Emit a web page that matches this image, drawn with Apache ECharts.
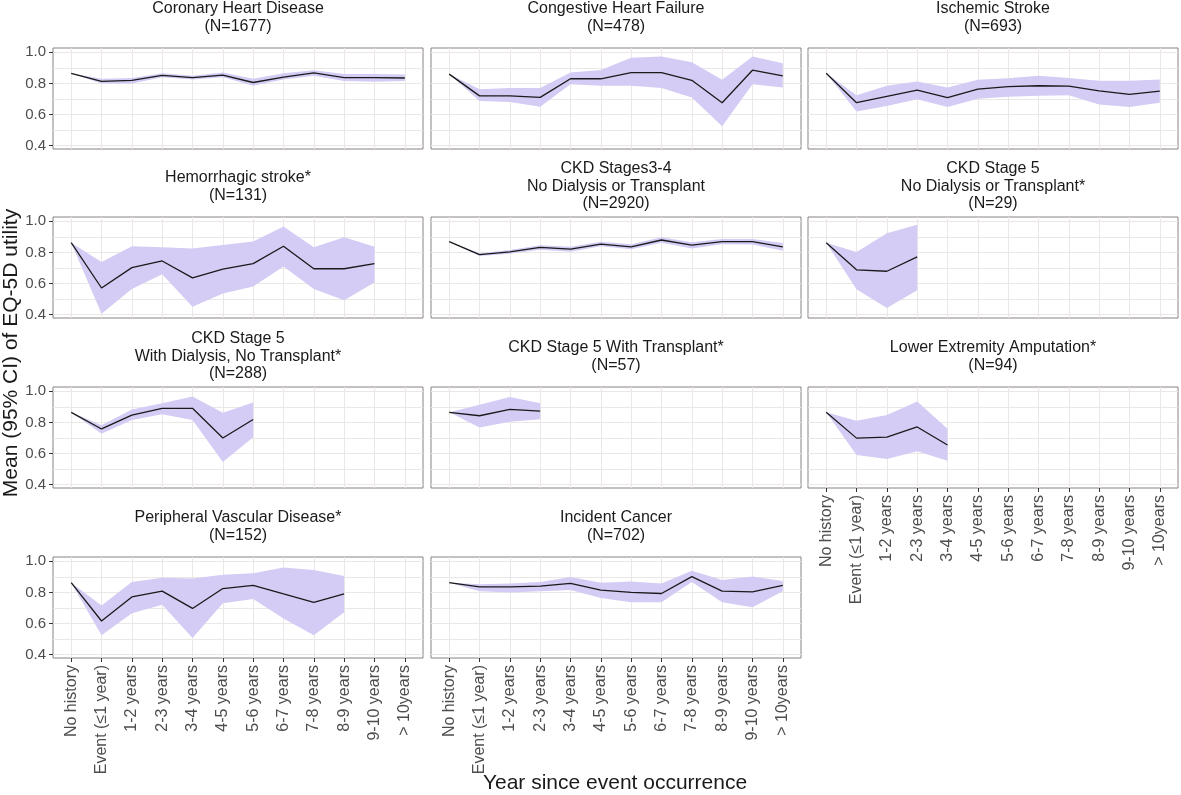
<!DOCTYPE html>
<html>
<head>
<meta charset="utf-8">
<script src="https://cdn.jsdelivr.net/npm/echarts@6/dist/echarts.min.js"></script>
<style>
  html, body { margin: 0; padding: 0; background: #fff; }
  #chart { width: 1181px; height: 795px; }
</style>
</head>
<body>
<div id="chart"></div>
<script>
// categories on the x axis
const years = ['No history', 'Event (≤1 year)', '1-2 years', '2-3 years', '3-4 years', '4-5 years',
  '5-6 years', '6-7 years', '7-8 years', '8-9 years', '9-10 years', '> 10years'];

// mean utility and 95% CI per panel
const chdMean = [0.865, 0.813, 0.82, 0.852, 0.837, 0.854, 0.806, 0.841, 0.868, 0.837, 0.837, 0.835];
const chdLow = [0.865, 0.80, 0.80, 0.84, 0.825, 0.84, 0.785, 0.825, 0.85, 0.815, 0.81, 0.815];
const chdHigh = [0.865, 0.83, 0.835, 0.865, 0.85, 0.87, 0.83, 0.865, 0.885, 0.86, 0.86, 0.858];

const chfMean = [0.86, 0.72, 0.72, 0.71, 0.83, 0.83, 0.87, 0.87, 0.82, 0.676, 0.885, 0.848];
const chfLow = [0.86, 0.687, 0.68, 0.65, 0.795, 0.785, 0.785, 0.77, 0.71, 0.524, 0.795, 0.774];
const chfHigh = [0.86, 0.763, 0.77, 0.77, 0.87, 0.887, 0.965, 0.974, 0.937, 0.824, 0.974, 0.93];

const isMean = [0.865, 0.676, 0.717, 0.757, 0.709, 0.763, 0.78, 0.785, 0.783, 0.752, 0.73, 0.75];
const isLow = [0.865, 0.62, 0.654, 0.698, 0.648, 0.702, 0.715, 0.72, 0.724, 0.665, 0.648, 0.676];
const isHigh = [0.865, 0.724, 0.785, 0.813, 0.774, 0.824, 0.833, 0.85, 0.835, 0.817, 0.817, 0.826];

const hsMean = [0.863, 0.571, 0.702, 0.745, 0.636, 0.693, 0.728, 0.84, 0.695, 0.695, 0.728];
const hsLow = [0.863, 0.405, 0.564, 0.66, 0.45, 0.536, 0.58, 0.71, 0.564, 0.492, 0.607];
const hsHigh = [0.863, 0.739, 0.84, 0.833, 0.826, 0.848, 0.87, 0.967, 0.833, 0.898, 0.837];

const ckd34Mean = [0.869, 0.786, 0.803, 0.832, 0.821, 0.854, 0.836, 0.88, 0.847, 0.869, 0.869, 0.836];
const ckd34Low = [0.869, 0.777, 0.792, 0.818, 0.805, 0.84, 0.82, 0.862, 0.826, 0.852, 0.851, 0.81];
const ckd34High = [0.869, 0.795, 0.815, 0.846, 0.837, 0.868, 0.852, 0.897, 0.866, 0.886, 0.886, 0.86];

const ckd5ndMean = [0.862, 0.688, 0.679, 0.771];
const ckd5ndLow = [0.862, 0.563, 0.443, 0.557];
const ckd5ndHigh = [0.862, 0.803, 0.924, 0.978];

const ckd5dMean = [0.865, 0.758, 0.847, 0.891, 0.891, 0.70, 0.819];
const ckd5dLow = [0.865, 0.727, 0.815, 0.852, 0.815, 0.546, 0.705];
const ckd5dHigh = [0.865, 0.782, 0.884, 0.924, 0.967, 0.863, 0.928];

const ckd5tMean = [0.865, 0.843, 0.884, 0.873];
const ckd5tLow = [0.865, 0.767, 0.804, 0.821];
const ckd5tHigh = [0.865, 0.913, 0.963, 0.924];

const leaMean = [0.865, 0.699, 0.705, 0.771, 0.655];
const leaLow = [0.865, 0.59, 0.564, 0.614, 0.553];
const leaHigh = [0.865, 0.81, 0.847, 0.935, 0.76];

const pvdMean = [0.863, 0.616, 0.771, 0.808, 0.697, 0.825, 0.845, 0.79, 0.736, 0.79];
const pvdLow = [0.863, 0.524, 0.666, 0.72, 0.507, 0.73, 0.758, 0.633, 0.524, 0.673];
const pvdHigh = [0.863, 0.716, 0.867, 0.895, 0.889, 0.913, 0.924, 0.961, 0.945, 0.906];

const canMean = [0.863, 0.836, 0.836, 0.84, 0.858, 0.815, 0.80, 0.793, 0.902, 0.808, 0.804, 0.845];
const canLow = [0.863, 0.808, 0.80, 0.808, 0.815, 0.764, 0.736, 0.736, 0.867, 0.736, 0.705, 0.808];
const canHigh = [0.863, 0.852, 0.858, 0.867, 0.9, 0.863, 0.871, 0.858, 0.939, 0.88, 0.902, 0.873];

// y axis
const yTicks = [0.4, 0.6, 0.8, 1.0];
const yGrid = [0.4, 0.5, 0.6, 0.7, 0.8, 0.9, 1.0];
const yMin = 0.378;
const yMax = 1.028;

// facets, in ggplot order (row by row)
const panels = [
  {title: 'Coronary Heart Disease\n(N=1677)', mean: chdMean, low: chdLow, high: chdHigh, row: 0, col: 0},
  {title: 'Congestive Heart Failure\n(N=478)', mean: chfMean, low: chfLow, high: chfHigh, row: 0, col: 1},
  {title: 'Ischemic Stroke\n(N=693)', mean: isMean, low: isLow, high: isHigh, row: 0, col: 2},
  {title: 'Hemorrhagic stroke*\n(N=131)', mean: hsMean, low: hsLow, high: hsHigh, row: 1, col: 0},
  {title: 'CKD Stages3-4\nNo Dialysis or Transplant\n(N=2920)', mean: ckd34Mean, low: ckd34Low, high: ckd34High, row: 1, col: 1},
  {title: 'CKD Stage 5\nNo Dialysis or Transplant*\n(N=29)', mean: ckd5ndMean, low: ckd5ndLow, high: ckd5ndHigh, row: 1, col: 2},
  {title: 'CKD Stage 5\nWith Dialysis, No Transplant*\n(N=288)', mean: ckd5dMean, low: ckd5dLow, high: ckd5dHigh, row: 2, col: 0},
  {title: 'CKD Stage 5 With Transplant*\n(N=57)', mean: ckd5tMean, low: ckd5tLow, high: ckd5tHigh, row: 2, col: 1},
  {title: 'Lower Extremity Amputation*\n(N=94)', mean: leaMean, low: leaLow, high: leaHigh, row: 2, col: 2},
  {title: 'Peripheral Vascular Disease*\n(N=152)', mean: pvdMean, low: pvdLow, high: pvdHigh, row: 3, col: 0},
  {title: 'Incident Cancer\n(N=702)', mean: canMean, low: canLow, high: canHigh, row: 3, col: 1}
];
const bottomPanels = [8, 9, 10];

const colLeft = [53, 431, 808];
const rowTop = [48, 217, 387, 557];
const panelW = 370;
const panelH = 101;
const fontName = '"Liberation Sans", Arial, sans-serif';
const ribbonColor = '#d4ccf4';
const gridColor = '#ebe7e7';
// ggplot discrete axis: positions 0..11 with 0.6 units of padding on each side
const xPositions = years.map(function (y, k) { return k; });

let grids = [];
let xAxes = [];
let yAxes = [];
let series = [];
let graphics = [];

function toPairs (arr) {
  return arr.map(function (v, k) { return [k, v]; });
}

panels.forEach(function (p, i) {
  let showX = bottomPanels.indexOf(i) >= 0;
  let showY = p.col === 0;

  grids.push({
    left: colLeft[p.col],
    top: rowTop[p.row],
    width: panelW,
    height: panelH,
    show: true,
    backgroundColor: '#fff',
    borderColor: '#878282',
    borderWidth: 1
  });

  xAxes.push({
    type: 'value',
    gridIndex: i,
    min: -0.6,
    max: years.length - 0.4,
    axisLine: {show: false},
    axisTick: {show: showX, customValues: xPositions, length: 4, lineStyle: {color: '#333'}},
    axisLabel: {
      show: showX,
      customValues: xPositions,
      rotate: 90,
      margin: 7,
      fontSize: 16,
      color: '#4d4d4d',
      fontFamily: fontName,
      formatter: function (v) { return years[Math.round(v)]; }
    },
    splitLine: {show: true, lineStyle: {color: gridColor, width: 1}}
  });

  // grid lines (major + minor)
  let gridAxis = yAxes.length;
  yAxes.push({
    type: 'value',
    gridIndex: i,
    position: 'left',
    min: yMin,
    max: yMax,
    axisLine: {show: false},
    axisTick: {show: false, customValues: yGrid},
    axisLabel: {show: false, customValues: yGrid},
    splitLine: {show: true, lineStyle: {color: gridColor, width: 1}}
  });
  // labels and ticks on the first column
  if (showY) {
    yAxes.push({
      type: 'value',
      gridIndex: i,
      position: 'left',
      min: yMin,
      max: yMax,
      axisLine: {show: false},
      axisTick: {show: true, customValues: yTicks, length: 4, lineStyle: {color: '#333'}},
      axisLabel: {
        show: true,
        customValues: yTicks,
        margin: 7,
        fontSize: 15,
        color: '#4d4d4d',
        fontFamily: fontName,
        formatter: function (v) { return v.toFixed(1); }
      },
      splitLine: {show: false}
    });
  }

  // 95% CI ribbon as one polygon through the axis scales
  series.push({
    type: 'custom',
    xAxisIndex: i,
    yAxisIndex: gridAxis,
    silent: true,
    data: [[0, p.mean[0]]],
    renderItem: function (params, api) {
      let upper = p.high.map(function (h, k) { return api.coord([k, h]); });
      let lower = p.low.map(function (l, k) { return api.coord([k, l]); }).reverse();
      return {
        type: 'polygon',
        shape: {points: upper.concat(lower)},
        style: {fill: ribbonColor}
      };
    }
  });
  series.push({
    type: 'line',
    xAxisIndex: i,
    yAxisIndex: gridAxis,
    data: toPairs(p.mean),
    symbol: 'none',
    z: 3,
    lineStyle: {color: '#1a1a1a', width: 1.3}
  });

  graphics.push({
    type: 'text',
    x: colLeft[p.col] + panelW / 2,
    y: rowTop[p.row] - 30.5,
    style: {
      text: p.title,
      align: 'center',
      verticalAlign: 'middle',
      font: '16px ' + fontName,
      lineHeight: 17.5,
      fill: '#1a1a1a'
    }
  });
});

graphics.push({
  type: 'text',
  x: 11,
  y: 353,
  rotation: Math.PI / 2,
  style: {
    text: 'Mean (95% CI) of EQ-5D utility',
    align: 'center',
    verticalAlign: 'middle',
    font: '21px ' + fontName,
    fill: '#1a1a1a'
  }
});
graphics.push({
  type: 'text',
  x: 615,
  y: 783,
  style: {
    text: 'Year since event occurrence',
    align: 'center',
    verticalAlign: 'middle',
    font: '21px ' + fontName,
    fill: '#1a1a1a'
  }
});

let myChart = echarts.init(document.getElementById('chart'), null, {renderer: 'canvas'});
myChart.setOption({
  animation: false,
  backgroundColor: '#fff',
  grid: grids,
  xAxis: xAxes,
  yAxis: yAxes,
  series: series,
  graphic: graphics
});
</script>
</body>
</html>
